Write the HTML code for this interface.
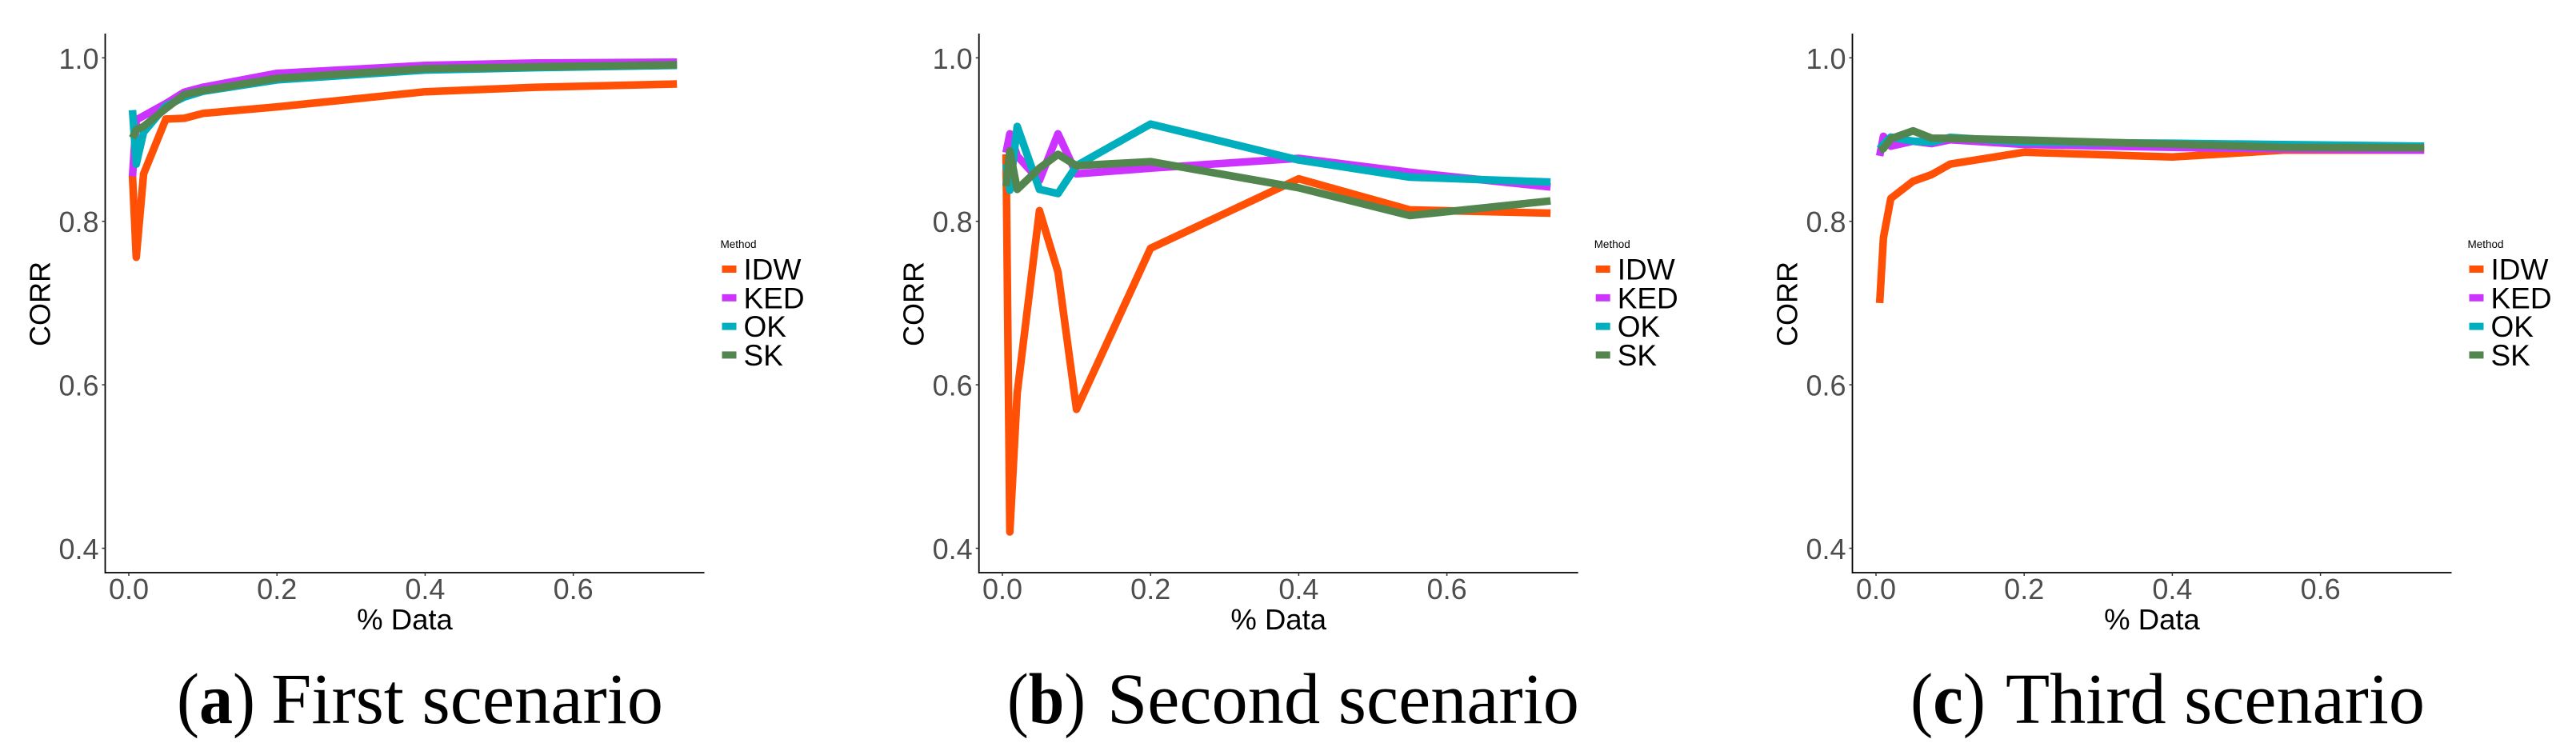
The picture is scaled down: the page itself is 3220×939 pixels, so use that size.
<!DOCTYPE html>
<html lang="en">
<head>
<meta charset="utf-8">
<title>CORR versus % Data for three scenarios</title>
<style>
html,body{margin:0;padding:0;background:#fff;}
svg{display:block;}
text{font-family:"Liberation Sans",Arial,sans-serif;}
text.cap{font-family:"Liberation Serif","Times New Roman",serif;font-size:90px;fill:#000;}
</style>
</head>
<body>
<svg id="figure" xmlns="http://www.w3.org/2000/svg" width="3220" height="939" viewBox="0 0 3220 939">
<rect width="3220" height="939" fill="#fff"/>
<g id="panel-a"></g>
<g id="panel-b"></g>
<g id="panel-c"></g>
<g>
<text class="cap" x="221" y="904" textLength="98" lengthAdjust="spacingAndGlyphs">(<tspan font-weight="bold">a</tspan>)</text>
<text class="cap" x="339" y="904" textLength="490" lengthAdjust="spacingAndGlyphs">First scenario</text>
</g>
<g>
<text class="cap" x="1259" y="904" textLength="98" lengthAdjust="spacingAndGlyphs">(<tspan font-weight="bold">b</tspan>)</text>
<text class="cap" x="1384" y="904" textLength="590" lengthAdjust="spacingAndGlyphs">Second scenario</text>
</g>
<g>
<text class="cap" x="2388" y="904" textLength="94" lengthAdjust="spacingAndGlyphs">(<tspan font-weight="bold">c</tspan>)</text>
<text class="cap" x="2507" y="904" textLength="524" lengthAdjust="spacingAndGlyphs">Third scenario</text>
</g>
</svg>
<script>
const percentData = [0.005, 0.01, 0.02, 0.05, 0.075, 0.1, 0.2, 0.4, 0.55, 0.74];
const methods = ['IDW', 'KED', 'OK', 'SK'];
const xTickValues = [0, 0.2, 0.4, 0.6];
const yTickValues = [0.4, 0.6, 0.8, 1.0];

const firstIDW = [0.856, 0.756, 0.858, 0.925, 0.926, 0.932, 0.94, 0.9585, 0.964, 0.968];
const firstKED = [0.855, 0.924, 0.929, 0.944, 0.958, 0.964, 0.981, 0.9907, 0.9936, 0.9946];
const firstOK = [0.936, 0.87, 0.909, 0.941, 0.952, 0.959, 0.973, 0.985, 0.988, 0.9907];
const firstSK = [0.902, 0.912, 0.916, 0.938, 0.955, 0.96, 0.975, 0.9867, 0.989, 0.9915];

const secondIDW = [0.882, 0.42, 0.59, 0.813, 0.738, 0.57, 0.767, 0.852, 0.814, 0.81];
const secondKED = [0.884, 0.907, 0.88, 0.85, 0.907, 0.858, 0.865, 0.877, 0.86, 0.842];
const secondOK = [0.87, 0.838, 0.916, 0.839, 0.834, 0.868, 0.919, 0.875, 0.854, 0.848];
const secondSK = [0.843, 0.886, 0.839, 0.865, 0.882, 0.868, 0.873, 0.841, 0.807, 0.825];

const thirdIDW = [0.7, 0.78, 0.828, 0.849, 0.857, 0.87, 0.8845, 0.8787, 0.887, 0.887];
const thirdKED = [0.88, 0.904, 0.892, 0.898, 0.895, 0.8997, 0.894, 0.8904, 0.8885, 0.887];
const thirdOK = [0.8885, 0.894, 0.903, 0.898, 0.897, 0.9027, 0.897, 0.8955, 0.8938, 0.892];
const thirdSK = [0.8865, 0.889, 0.901, 0.9107, 0.9018, 0.9015, 0.8994, 0.8943, 0.8904, 0.89];

const seriesColors = {IDW: '#ff5006', KED: '#cc33ff', OK: '#00aebd', SK: '#53864f'};
const SVG_NS = 'http://www.w3.org/2000/svg';

function make(parent, tag, attrs, content) {
  const node = document.createElementNS(SVG_NS, tag);
  for (const key in attrs) node.setAttribute(key, attrs[key]);
  if (content !== undefined) node.textContent = content;
  parent.appendChild(node);
  return node;
}

function drawPanel(groupId, axisLeft, zeroX, series) {
  const group = document.getElementById(groupId);
  const axisRight = axisLeft + 749;
  const axisTop = 42;
  const axisBottom = 716;
  const xScale = v => zeroX + 926 * v;
  const yScale = v => 72.3 + (1 - v) * 1022;

  methods.forEach((method, m) => {
    const line = make(group, 'polyline', {
      points: percentData.map((x, i) => xScale(x).toFixed(1) + ',' + yScale(series[m][i]).toFixed(1)).join(' '),
      fill: 'none', stroke: seriesColors[method], 'stroke-width': 9.5,
      'stroke-linejoin': 'round', 'stroke-linecap': 'butt', 'stroke-miterlimit': 10
    });
    
    
  });

  const yAxis = make(group, 'line', {x1: axisLeft, x2: axisLeft, y1: axisTop, y2: axisBottom + 1, stroke: '#000', 'stroke-width': 1.8});
  
  
  const xAxis = make(group, 'line', {x1: axisLeft, x2: axisRight, y1: axisBottom, y2: axisBottom, stroke: '#000', 'stroke-width': 1.8});
  
  

  yTickValues.forEach(v => {
    const tick = make(group, 'line', {x1: axisLeft - 4, x2: axisLeft, y1: yScale(v), y2: yScale(v), stroke: '#333', 'stroke-width': 1.5});
    
    
    const label = make(group, 'text', {x: axisLeft - 8, y: yScale(v) + 13.5, 'text-anchor': 'end', 'font-size': 36, fill: '#4d4d4d'}, v.toFixed(1));
    
    
  });

  xTickValues.forEach(v => {
    const tick = make(group, 'line', {x1: xScale(v), x2: xScale(v), y1: axisBottom, y2: axisBottom + 4, stroke: '#333', 'stroke-width': 1.5});
    
    
    const label = make(group, 'text', {x: xScale(v), y: 749, 'text-anchor': 'middle', 'font-size': 36, fill: '#4d4d4d'}, v.toFixed(1));
    
    
  });

  const xTitle = make(group, 'text', {x: (axisLeft + axisRight) / 2, y: 787, 'text-anchor': 'middle', 'font-size': 36.5, fill: '#000'}, '% Data');
  
  

  const yTitle = make(group, 'text', {transform: 'translate(' + (axisLeft - 69) + ',380) rotate(-90)', 'text-anchor': 'middle', 'font-size': 36, fill: '#000'}, 'CORR');
  
  

  const legendX = axisLeft + 771;
  const legend = make(group, 'g', {});
  
  
  const legendTitle = make(legend, 'text', {x: legendX - 2, y: 310, 'font-size': 13.5, fill: '#000'}, 'Method');
  
  
  methods.forEach((method, m) => {
    const centerY = 336.5 + m * 35.8;
    const swatch = make(legend, 'rect', {x: legendX, y: centerY - 4.5, width: 18, height: 9, fill: seriesColors[method]});
    
    
    const entry = make(legend, 'text', {x: legendX + 27, y: centerY + 13, 'font-size': 37, fill: '#000'}, method);
    
    
  });
}

drawPanel('panel-a', 131.5, 161, [firstIDW, firstKED, firstOK, firstSK]);
drawPanel('panel-b', 1223.7, 1253, [secondIDW, secondKED, secondOK, secondSK]);
drawPanel('panel-c', 2315.5, 2345, [thirdIDW, thirdKED, thirdOK, thirdSK]);
</script>
</body>
</html>
